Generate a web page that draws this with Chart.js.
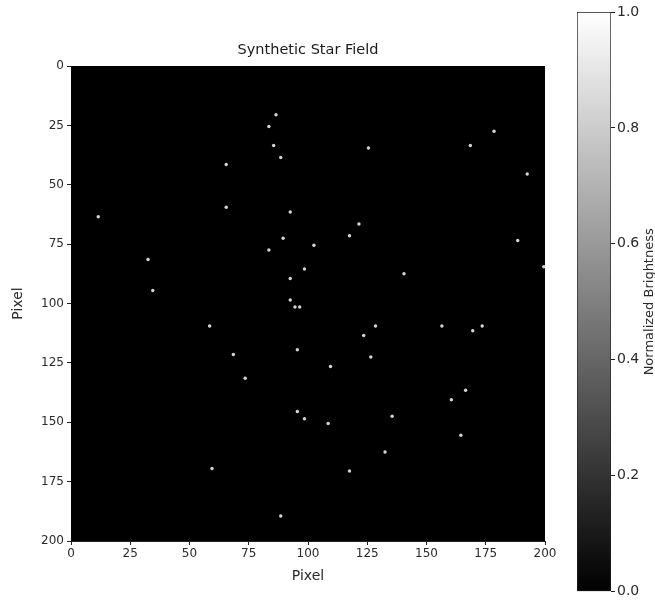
<!DOCTYPE html>
<html>
<head>
<meta charset="utf-8">
<script src="https://cdn.jsdelivr.net/npm/chart.js@4/dist/chart.umd.min.js"></script>
<style>
  body { margin: 0; background: #fff; }
  #wrap { position: relative; width: 655px; height: 602px; }
  #field { position: absolute; left: 0; top: 0; }
  #cbar { position: absolute; left: 560px; top: 0; }
</style>
</head>
<body>
<div id="wrap">
  <canvas id="field" width="655" height="602"></canvas>
  <canvas id="cbar" width="95" height="602"></canvas>
</div>
<script>
// star centres in pixel coordinates (column, row)
var starX = [86.5, 83.5, 85.5, 88.5, 65.5, 65.5, 92.5, 11.5, 89.5, 83.5, 32.5, 98.5, 92.5, 34.5, 92.5, 94.5, 96.5,
             178.5, 168.5, 125.5, 192.5, 121.5, 117.5, 102.5, 188.5, 140.5, 199.5, 58.5, 95.5, 68.5, 73.5, 95.5,
             98.5, 59.5, 88.5, 128.5, 123.5, 126.5, 109.5, 156.5, 169.5, 173.5, 166.5, 160.5, 108.5, 135.5,
             164.5, 132.5, 117.5];
var starY = [20.5, 25.5, 33.5, 38.5, 41.5, 59.5, 61.5, 63.5, 72.5, 77.5, 81.5, 85.5, 89.5, 94.5, 98.5, 101.5, 101.5,
             27.5, 33.5, 34.5, 45.5, 66.5, 71.5, 75.5, 73.5, 87.5, 84.5, 109.5, 119.5, 121.5, 131.5, 145.5,
             148.5, 169.5, 189.5, 109.5, 113.5, 122.5, 126.5, 109.5, 111.5, 109.5, 136.5, 140.5, 150.5, 147.5,
             155.5, 162.5, 170.5];

var pixelTicks = [0, 25, 50, 75, 100, 125, 150, 175, 200];
var brightnessTicks = [0.0, 0.2, 0.4, 0.6, 0.8, 1.0];

Chart.defaults.font.family = "'DejaVu Sans', sans-serif";
Chart.defaults.color = '#2a2a2a';
Chart.defaults.animation = false;

var stars = starX.map(function (x, i) { return {x: x, y: starY[i]}; });

// black sky behind the stars, title centred over the plot
var skyPlugin = {
  id: 'sky',
  beforeDatasetsDraw: function (chart) {
    var a = chart.chartArea, ctx = chart.ctx;
    ctx.save();
    ctx.fillStyle = '#000';
    ctx.fillRect(a.left, a.top, a.right - a.left, a.bottom - a.top);
    ctx.restore();
  },
  afterDraw: function (chart) {
    var a = chart.chartArea, ctx = chart.ctx;
    ctx.save();
    ctx.fillStyle = '#1a1a1a';
    ctx.font = "14.5px 'DejaVu Sans', sans-serif";
    ctx.textAlign = 'center';
    ctx.textBaseline = 'middle';
    ctx.fillText('Synthetic Star Field', (a.left + a.right) / 2, 50);
    ctx.restore();
  }
};

new Chart(document.getElementById('field'), {
  type: 'scatter',
  data: {
    datasets: [{
      data: stars,
      pointRadius: 1.7,
      pointBorderWidth: 0,
      pointBackgroundColor: '#d6d6d6'
    }]
  },
  options: {
    responsive: false,
    devicePixelRatio: 1,
    layout: { padding: { left: 0, right: 110, top: 66, bottom: 0 } },
    plugins: {
      legend: { display: false },
      tooltip: { enabled: false },
      title: { display: false }
    },
    scales: {
      x: {
        type: 'linear',
        min: 0, max: 200,
        afterBuildTicks: function (s) { s.ticks = pixelTicks.map(function (v) { return {value: v}; }); },
        afterFit: function (s) { s.height = 61; },
        ticks: { font: { size: 12 }, padding: 2, maxRotation: 0 },
        grid: { drawOnChartArea: false, tickLength: 4, tickColor: '#222' },
        border: { color: '#222' },
        title: { display: true, text: 'Pixel', font: { size: 14 }, padding: { top: 0, bottom: 17 } }
      },
      y: {
        type: 'linear',
        reverse: true,
        min: 0, max: 200,
        afterBuildTicks: function (s) { s.ticks = pixelTicks.map(function (v) { return {value: v}; }); },
        afterFit: function (s) { s.width = 71; },
        ticks: { font: { size: 12 }, padding: 3 },
        grid: { drawOnChartArea: false, tickLength: 4, tickColor: '#222' },
        border: { color: '#222' },
        title: { display: true, text: 'Pixel', font: { size: 14 }, padding: { top: 10, bottom: 0 } }
      }
    }
  },
  plugins: [skyPlugin]
});

// colour bar: one floating bar filled with the grey ramp
var cbarLabel = {
  id: 'cbarLabel',
  afterDraw: function (chart) {
    var a = chart.chartArea, ctx = chart.ctx;
    ctx.save();
    ctx.translate(90, (a.top + a.bottom) / 2);
    ctx.rotate(-Math.PI / 2);
    ctx.fillStyle = '#2a2a2a';
    ctx.font = "13px 'DejaVu Sans', sans-serif";
    ctx.textAlign = 'center';
    ctx.textBaseline = 'middle';
    ctx.fillText('Normalized Brightness', 0, 0);
    ctx.restore();
  }
};

new Chart(document.getElementById('cbar'), {
  type: 'bar',
  data: {
    labels: ['b'],
    datasets: [{
      data: [[0, 1]],
      barPercentage: 1,
      categoryPercentage: 1,
      borderWidth: 1,
      borderColor: '#222',
      borderSkipped: false,
      backgroundColor: function (c) {
        var a = c.chart.chartArea;
        if (!a) return '#888';
        var g = c.chart.ctx.createLinearGradient(0, a.bottom, 0, a.top);
        g.addColorStop(0, '#000');
        g.addColorStop(1, '#fff');
        return g;
      }
    }]
  },
  options: {
    responsive: false,
    devicePixelRatio: 1,
    layout: { padding: { left: 17, right: 0, top: 12, bottom: 6 } },
    plugins: { legend: { display: false }, tooltip: { enabled: false } },
    scales: {
      x: { display: false },
      y: {
        position: 'right',
        min: 0, max: 1,
        afterBuildTicks: function (s) { s.ticks = brightnessTicks.map(function (v) { return {value: v}; }); },
        afterFit: function (s) { s.width = 44; },
        ticks: { font: { size: 14 }, padding: 2, callback: function (v) { return v.toFixed(1); } },
        grid: { drawOnChartArea: false, tickLength: 4, tickColor: '#222' },
        border: { display: false }
      }
    }
  },
  plugins: [cbarLabel]
});
</script>
</body>
</html>
